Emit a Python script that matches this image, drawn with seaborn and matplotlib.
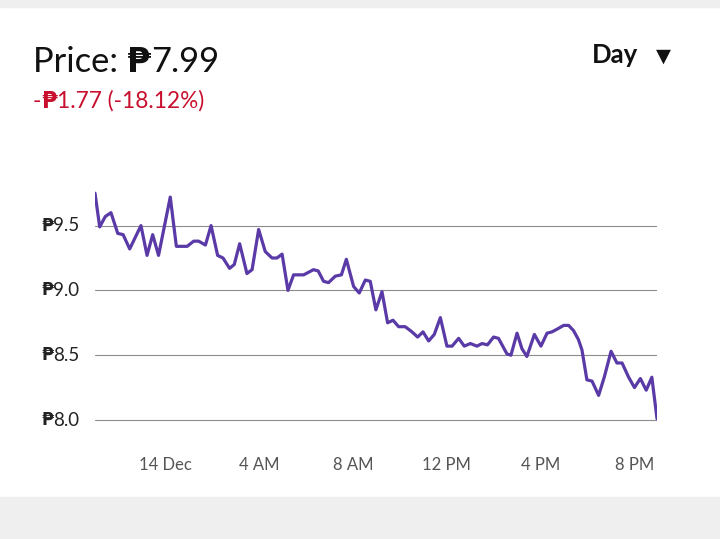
import pandas as pd
import matplotlib.pyplot as plt
import matplotlib.transforms as mtransforms
import seaborn as sns
from matplotlib.patches import Rectangle

# Data (hours relative to 14 Dec 00:00, price in PHP)
hours = [-3.00, -2.80, -2.56, -2.32, -2.03, -1.80, -1.52, -1.04, -0.78, -0.54,
         -0.29, 0.21, 0.47, 0.93, 1.21, 1.42, 1.71, 1.95, 2.23, 2.46,
         2.74, 2.94, 3.17, 3.48, 3.70, 3.98, 4.26, 4.55, 4.76, 4.98,
         5.23, 5.47, 5.90, 6.32, 6.52, 6.75, 6.96, 7.25, 7.51, 7.72,
         8.03, 8.27, 8.53, 8.74, 8.98, 9.24, 9.48, 9.71, 9.95, 10.23,
         10.52, 10.76, 10.99, 11.23, 11.47, 11.73, 12.01, 12.23, 12.51, 12.75,
         13.01, 13.29, 13.51, 13.74, 14.00, 14.21, 14.57, 14.74, 15.00, 15.21,
         15.42, 15.74, 16.02, 16.28, 16.49, 16.70, 16.99, 17.20, 17.41, 17.62,
         17.77, 17.98, 18.20, 18.48, 18.72, 19.01, 19.26, 19.48, 19.76, 20.01,
         20.26, 20.51, 20.75, 20.97]
prices = [9.75, 9.49, 9.57, 9.60, 9.44, 9.43, 9.32, 9.50, 9.27, 9.43,
          9.27, 9.72, 9.34, 9.34, 9.38, 9.38, 9.35, 9.50, 9.27, 9.25,
          9.17, 9.20, 9.36, 9.13, 9.16, 9.47, 9.30, 9.25, 9.25, 9.28,
          9.00, 9.12, 9.12, 9.16, 9.15, 9.07, 9.06, 9.11, 9.12, 9.24,
          9.03, 8.98, 9.08, 9.07, 8.85, 8.99, 8.75, 8.77, 8.72, 8.72,
          8.68, 8.64, 8.68, 8.61, 8.66, 8.79, 8.57, 8.57, 8.63, 8.57,
          8.59, 8.57, 8.59, 8.58, 8.64, 8.63, 8.51, 8.50, 8.67, 8.55,
          8.49, 8.66, 8.57, 8.67, 8.68, 8.70, 8.73, 8.73, 8.69, 8.62,
          8.54, 8.31, 8.30, 8.19, 8.33, 8.53, 8.44, 8.44, 8.33, 8.25,
          8.32, 8.23, 8.33, 8.01]

tick_hours = [0, 4, 8, 12, 16, 20]
tick_labels = ['14 Dec', '4 AM', '8 AM', '12 PM', '4 PM', '8 PM']
price_ticks = [8.0, 8.5, 9.0, 9.5]
price_labels = ['8.0', '8.5', '9.0', '9.5']

df = pd.DataFrame({'hour': hours, 'price': prices})

sns.set_style('white')
plt.rcParams['font.family'] = ['Lato', 'DejaVu Sans']

W, H = 720, 539
fig = plt.figure(figsize=(7.2, 5.39), dpi=100)
fig.patch.set_facecolor('white')
renderer = fig.canvas.get_renderer()


def pieces_text(x_px, y, pieces, transform=None, **kw):
    # draw text pieces one after another; the peso sign is taken from DejaVu
    x = x_px
    for s, extra in pieces:
        opts = dict(kw)
        opts.update(extra)
        if transform is None:
            t = fig.text(x / W, 1 - y / H, s, ha='left', va='baseline', **opts)
        else:
            t = fig.text(x / W, y, s, ha='left', va='center',
                         transform=transform, **opts)
        x += t.get_window_extent(renderer).width


peso = {'family': ['DejaVu Sans'], 'fontweight': 'bold'}

# gray bands of the screenshot
fig.add_artist(Rectangle((0, 1 - 7 / H), 1, 7 / H, transform=fig.transFigure,
                         color='#efefef', zorder=0))
fig.add_artist(Rectangle((0, 0), 1, 42 / H, transform=fig.transFigure,
                         color='#efefef', zorder=0))

# axes from x=95..657 px, y=185..425 px
ax = fig.add_axes([95 / W, 1 - 425 / H, (657 - 95) / W, 240 / H])
sns.lineplot(data=df, x='hour', y='price', ax=ax, color='#5a3aa6', linewidth=2.3)

ax.set_xlim(hours[0], hours[-1])
ax.set_ylim(8 - 5 / 129.6, 8 + 235 / 129.6)
ax.set_xticks(tick_hours, tick_labels)
ax.set_yticks(price_ticks, [''] * len(price_ticks))
ax.tick_params(axis='x', length=0, pad=23, labelsize=12, labelcolor='#555555')
ax.tick_params(axis='y', length=0)
ax.grid(axis='y', color='#8c8c8c', linewidth=0.8)
ax.set_axisbelow(True)
ax.set_xlabel('')
ax.set_ylabel('')
for s in ax.spines.values():
    s.set_visible(False)

# y labels with the peso sign
blend = mtransforms.blended_transform_factory(fig.transFigure, ax.transData)
for v, lab in zip(price_ticks, price_labels):
    pieces_text(41, v, [('₱', {'family': ['DejaVu Sans'], 'fontsize': 12.5,
                               'fontweight': 'bold'}),
                        (lab, {})],
                transform=blend, fontsize=13.5, color='#222222')

# header texts
pieces_text(33, 72, [('Price: ', {}), ('₱', peso), ('7.99', {})],
            fontsize=24.8, color='#111111')
pieces_text(33, 108, [('-', {}), ('₱', peso), ('1.77 (-18.12%)', {})],
            fontsize=16.3, color='#c8102e')
fig.text(592 / W, 1 - 63 / H, 'Day', fontsize=18.5, fontweight='bold',
         color='#111111', ha='left', va='baseline')
fig.text(663.5 / W, 1 - 56 / H, '▼', fontsize=14, color='#111111',
         ha='center', va='center', family=['DejaVu Sans'])

plt.savefig('out.png', dpi=100)
